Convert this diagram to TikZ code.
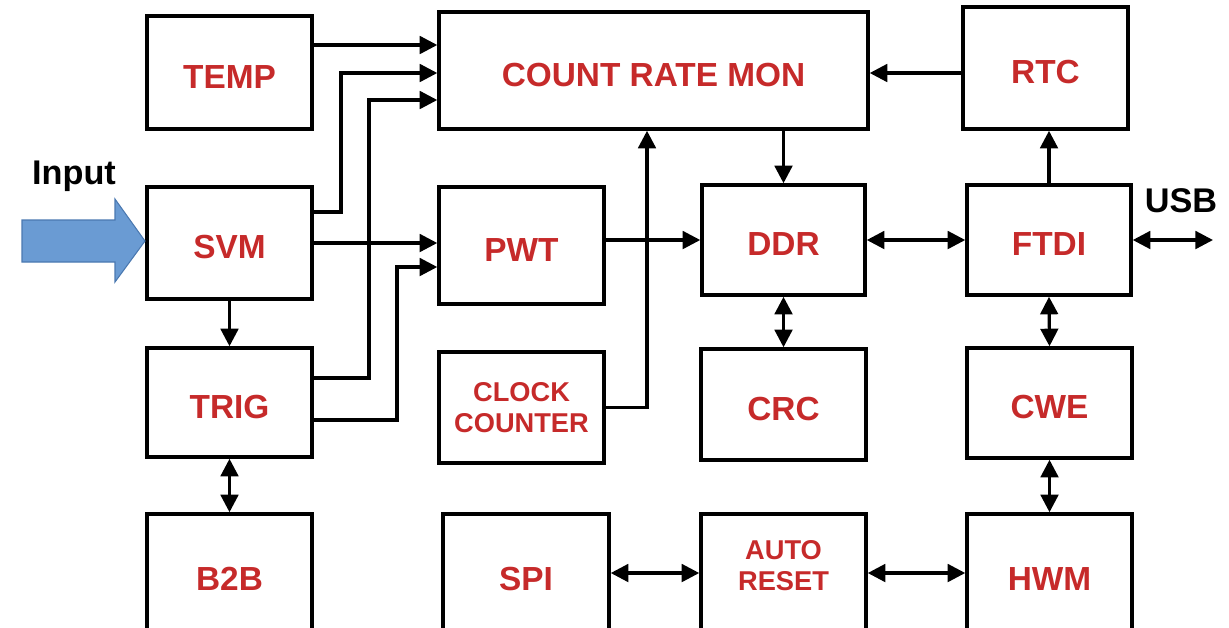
\documentclass[tikz,border=0pt]{standalone}
\usepackage{fontspec}
\setmainfont{Liberation Sans}
\usetikzlibrary{arrows.meta}
\definecolor{rojoTxt}{HTML}{C62A2A}
\definecolor{azulIn}{HTML}{6A9BD3}
\definecolor{azulBorde}{HTML}{4A78B0}

\begin{document}
\begin{tikzpicture}[x=0.02cm,y=-0.02cm,>={Triangle[length=10pt,width=10pt]},
  bloque/.style={draw,line width=2pt,text=rojoTxt,align=center,inner sep=0pt,
    font=\bfseries\fontsize{19}{21}\selectfont,minimum width=3.3cm,text height=18pt},
  chico/.style={font=\bfseries\fontsize{15.5}{17.5}\selectfont,text height=},
  enlace/.style={line width=1.8pt}]
  \useasboundingbox (0,0) rectangle (1229,627);
  \clip (0,0) rectangle (1229,627);
  % fila de arriba
  \node[bloque,minimum height=2.26cm] (temp) at (229.5,72.5) {TEMP};
  \node[bloque,minimum width=8.58cm,minimum height=2.34cm] (crm) at (653.5,70.5) {COUNT RATE MON};
  \node[bloque,minimum height=2.44cm] (rtc) at (1045.5,68) {RTC};
  % segunda fila
  \node[bloque,minimum height=2.24cm] (svm) at (229.5,243) {SVM};
  \node[bloque,minimum height=2.34cm] (pwt) at (521.5,245.5) {PWT};
  \node[bloque,minimum width=3.26cm,minimum height=2.2cm] (ddr) at (783.5,240) {DDR};
  \node[bloque,minimum width=3.28cm,minimum height=2.2cm] (ftdi) at (1049,240) {FTDI};
  % tercera fila
  \node[bloque,minimum height=2.18cm] (trig) at (229.5,402.5) {TRIG};
  \node[bloque,chico,minimum height=2.22cm] (clk) at (521.5,407.5) {CLOCK\\COUNTER};
  \node[bloque,minimum height=2.22cm] (crc) at (783.5,404.5) {CRC};
  \node[bloque,minimum height=2.2cm] (cwe) at (1049.5,403) {CWE};
  % fila de abajo
  \node[bloque,minimum height=2.44cm] (b2b) at (229.5,575) {B2B};
  \node[bloque,minimum width=3.32cm,minimum height=2.44cm] (spi) at (526,575) {SPI};
  \node[bloque,chico,minimum height=2.44cm,text depth=11pt] (auto) at (783.5,575) {AUTO\\RESET};
  \node[bloque,minimum height=2.44cm] (hwm) at (1049.5,575) {HWM};
  % entrada
  \filldraw[fill=azulIn,draw=azulBorde,line width=0.6pt]
    (22,220) -- (115,220) -- (115,199) -- (145,241) -- (115,282) -- (115,262) -- (22,262) -- cycle;
  \node[anchor=base,font=\bfseries\fontsize{19.5}{21}\selectfont] (input) at (74,184) {Input};
  \node[anchor=base,font=\bfseries\fontsize{19.5}{21}\selectfont] (usb) at (1181,212) {USB};
  \coordinate (usbend) at (1213,240);
  % conexiones
  \draw[enlace,->] (temp.east |- 0,45) -- (crm.west |- 0,45);
  \draw[enlace,->] (svm.east |- 0,212) -- (341,212) |- (crm.west |- 0,73);
  \draw[enlace,->] (trig.east |- 0,378) -- (369,378) |- (crm.west |- 0,100);
  \draw[enlace,->] (svm.east) -- (svm.east -| pwt.west);
  \draw[enlace,->] (trig.east |- 0,420) -- (397,420) |- (pwt.west |- 0,267);
  \draw[enlace,->] (clk.east) -| (crm.south -| 647,0);
  \draw[enlace,->] (pwt.east |- ddr.west) -- (ddr.west);
  \draw[enlace,->] (ddr.north |- crm.south) -- (ddr.north);
  \draw[enlace,->] (rtc.west |- 0,73) -- (crm.east |- 0,73);
  \draw[enlace,->] (ftdi.north) -- (ftdi.north |- rtc.south);
  \draw[enlace,<->] (ddr.east) -- (ftdi.west);
  \draw[enlace,<->] (ftdi.east) -- (usbend);
  \draw[enlace,<->] (ddr.south) -- (crc.north);
  \draw[enlace,<->] (ftdi.south) -- (cwe.north);
  \draw[enlace,<->] (cwe.south) -- (hwm.north);
  \draw[enlace,->] (svm.south) -- (trig.north);
  \draw[enlace,<->] (trig.south) -- (b2b.north);
  \draw[enlace,<->] (spi.east |- 0,573) -- (auto.west |- 0,573);
  \draw[enlace,<->] (auto.east |- 0,573) -- (hwm.west |- 0,573);
\end{tikzpicture}
\end{document}
